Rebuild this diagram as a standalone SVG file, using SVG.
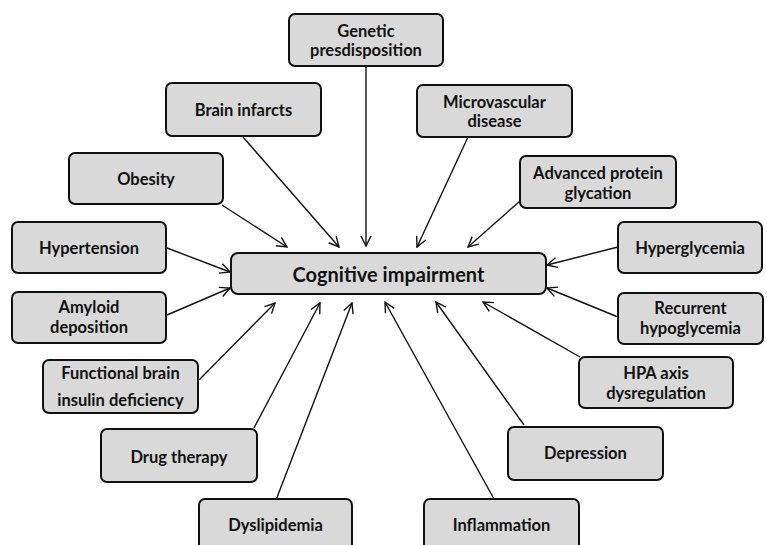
<svg xmlns="http://www.w3.org/2000/svg" width="767" height="545" viewBox="0 0 767 545">
<style>
.box{fill:#d9d9d9;stroke:#111;stroke-width:2}
.t{font-family:Lato,"Open Sans","Liberation Sans",sans-serif;font-weight:700;font-size:16.5px;fill:#111;text-anchor:middle;dominant-baseline:central}
.big{font-size:20px}
.c{stroke:#111;stroke-width:1.4;fill:none;marker-end:url(#ah)}
</style>
<defs>
<marker id="ah" viewBox="0 0 12 12" refX="11" refY="6" markerWidth="12" markerHeight="12" markerUnits="userSpaceOnUse" orient="auto">
<path d="M1,1 L11,6 L1,11" fill="none" stroke="#111" stroke-width="1.4"/>
</marker>
</defs>
<rect width="767" height="545" fill="#fff"/>
<g id="connectors">
<line class="c" x1="366" y1="66" x2="366" y2="246"/>
<line class="c" x1="243" y1="137" x2="339" y2="247"/>
<line class="c" x1="222" y1="205" x2="287" y2="247"/>
<line class="c" x1="167" y1="248" x2="230" y2="272"/>
<line class="c" x1="468" y1="137" x2="417" y2="247"/>
<line class="c" x1="520" y1="201" x2="468" y2="247"/>
<line class="c" x1="618" y1="247" x2="547" y2="265"/>
<line class="c" x1="167" y1="315" x2="230" y2="288"/>
<line class="c" x1="199" y1="380" x2="275" y2="303"/>
<line class="c" x1="254" y1="428" x2="320" y2="303"/>
<line class="c" x1="276" y1="500" x2="352" y2="303"/>
<line class="c" x1="618" y1="317" x2="547" y2="288"/>
<line class="c" x1="580" y1="357" x2="483" y2="302"/>
<line class="c" x1="524" y1="425" x2="436" y2="302"/>
<line class="c" x1="494" y1="499" x2="385" y2="302"/>
</g>
<g id="cognitive"><rect class="box" x="231" y="253" width="315" height="41" rx="7"/><text class="t big" x="388.5" y="273.5">Cognitive impairment</text></g>
<g id="genetic"><rect class="box" x="289" y="14" width="154" height="52" rx="6"/><text class="t" x="366" y="31">Genetic</text><text class="t" x="366" y="50">presdisposition</text></g>
<g id="brain-infarcts"><rect class="box" x="166" y="83" width="155" height="53" rx="6"/><text class="t" x="243.5" y="109.5">Brain infarcts</text></g>
<g id="microvascular"><rect class="box" x="417" y="85" width="155" height="52" rx="6"/><text class="t" x="494.5" y="102">Microvascular</text><text class="t" x="494.5" y="121">disease</text></g>
<g id="obesity"><rect class="box" x="69" y="153" width="154" height="51" rx="6"/><text class="t" x="146" y="178.5">Obesity</text></g>
<g id="advanced"><rect class="box" x="520" y="156" width="156" height="52" rx="6"/><text class="t" x="598" y="173">Advanced protein</text><text class="t" x="598" y="193">glycation</text></g>
<g id="hypertension"><rect class="box" x="12" y="222" width="154" height="51" rx="6"/><text class="t" x="89" y="247.5">Hypertension</text></g>
<g id="hyperglycemia"><rect class="box" x="618" y="222" width="144" height="51" rx="6"/><text class="t" x="690" y="247.5">Hyperglycemia</text></g>
<g id="amyloid"><rect class="box" x="12" y="292" width="154" height="51" rx="6"/><text class="t" x="89" y="307">Amyloid</text><text class="t" x="89" y="327">deposition</text></g>
<g id="recurrent"><rect class="box" x="618" y="293" width="145" height="51" rx="6"/><text class="t" x="690.5" y="308">Recurrent</text><text class="t" x="690.5" y="328">hypoglycemia</text></g>
<g id="functional"><rect class="box" x="43" y="360" width="155" height="53" rx="6"/><text class="t" x="120.5" y="373">Functional brain</text><text class="t" x="120.5" y="400">insulin deficiency</text></g>
<g id="hpa"><rect class="box" x="579" y="357" width="154" height="51" rx="6"/><text class="t" x="656" y="373">HPA axis</text><text class="t" x="656" y="393">dysregulation</text></g>
<g id="drug-therapy"><rect class="box" x="101" y="429" width="156" height="53" rx="6"/><text class="t" x="179" y="457">Drug therapy</text></g>
<g id="depression"><rect class="box" x="508" y="427" width="155" height="53" rx="6"/><text class="t" x="585.5" y="453">Depression</text></g>
<g id="dyslipidemia"><rect class="box" x="199" y="499" width="153" height="60" rx="6"/><text class="t" x="275.5" y="525">Dyslipidemia</text></g>
<g id="inflammation"><rect class="box" x="424" y="499" width="155" height="60" rx="6"/><text class="t" x="501.5" y="525">Inflammation</text></g>
</svg>
